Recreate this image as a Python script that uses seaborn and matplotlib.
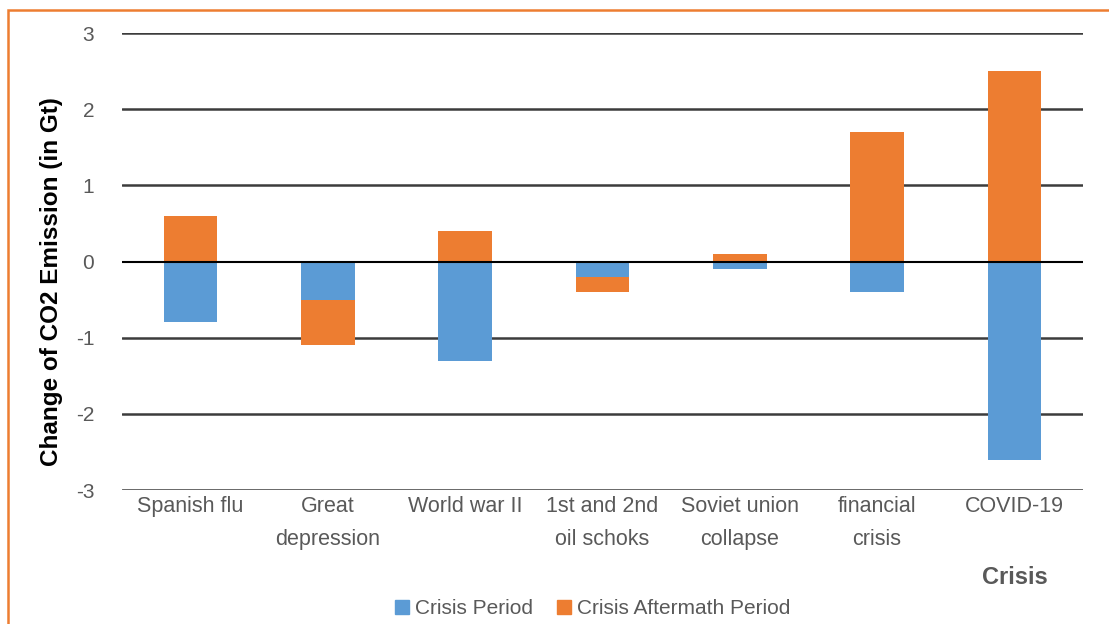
import matplotlib
matplotlib.use("Agg")
import matplotlib.pyplot as plt
import seaborn as sns
import numpy as np
import pandas as pd
from matplotlib.lines import Line2D
from matplotlib.patches import Rectangle

# Data
categories = ["Spanish flu", "Great\ndepression", "World war II", "1st and 2nd\noil schoks",
              "Soviet union\ncollapse", "financial\ncrisis", "COVID-19"]
crisis_period = [-0.8, -0.5, -1.3, -0.2, -0.1, -0.4, -2.6]
aftermath_period = [0.6, -0.6, 0.4, -0.2, 0.1, 1.7, 2.5]
y_ticks = [-3, -2, -1, 0, 1, 2, 3]

BLUE = "#5B9BD5"
ORANGE = "#ED7D31"
GRAY = "#595959"

df = pd.DataFrame({"crisis": categories, "period": crisis_period, "aftermath": aftermath_period})
# stack aftermath on the crisis bar when both have the same sign
after_bottom = np.where(np.sign(df["period"]) == np.sign(df["aftermath"]), df["period"], 0.0)

sns.set_theme(style="white")
plt.rcParams["font.family"] = ["Liberation Sans", "DejaVu Sans"]
plt.rcParams["axes.unicode_minus"] = False

fig = plt.figure(figsize=(11.09, 6.24), dpi=100)
ax = fig.add_axes([0.110, 0.2147, 0.8666, 0.7324])

for y in y_ticks:
    if y != 0:
        ax.axhline(y, color="#3c3c3c", lw=1.8, zorder=0)

sns.barplot(data=df, x="crisis", y="period", order=categories, color=BLUE,
            saturation=1, width=0.39, linewidth=0, ax=ax, zorder=2)
sns.barplot(data=df, x="crisis", y="aftermath", order=categories, color=ORANGE,
            saturation=1, width=0.39, linewidth=0, bottom=after_bottom, ax=ax, zorder=2)

ax.axhline(0, color="black", lw=1.5, zorder=3)

ax.set_ylim(-3, 3)
ax.set_yticks(y_ticks)
ax.set_yticklabels([str(t) for t in y_ticks])
ax.set_xlim(-0.5, 6.5)
ax.set_xlabel("")
ax.set_ylabel("")
for s in ax.spines.values():
    s.set_visible(False)
ax.tick_params(axis="y", length=0, pad=20, labelsize=15, labelcolor=GRAY)
ax.tick_params(axis="x", length=0, pad=4, labelsize=15.5, labelcolor=GRAY)
for lab in ax.get_xticklabels():
    lab.set_linespacing(1.75)

fig.text(52 / 1109, 1 - 282 / 624, "Change of CO2 Emission (in Gt)", rotation=90,
         ha="center", va="center", fontsize=17.5, fontweight="bold", color="black")
fig.text(1015 / 1109, 1 - 578 / 624, "Crisis", ha="center", va="center",
         fontsize=17, fontweight="bold", color=GRAY)

handles = [Line2D([], [], marker="s", ls="", color=BLUE, markersize=10),
           Line2D([], [], marker="s", ls="", color=ORANGE, markersize=10)]
fig.legend(handles, ["Crisis Period", "Crisis Aftermath Period"], loc="center",
           bbox_to_anchor=(591 / 1109, 1 - 609 / 624), ncol=2, frameon=False,
           fontsize=15, labelcolor=GRAY, handletextpad=0.1, columnspacing=1.0,
           handlelength=1.0)

# orange frame (only top and left visible in the original)
fig.patches.append(Rectangle((8 / 1109, -0.2), 1.2, 1 - 10 / 624 + 0.2, transform=fig.transFigure,
                             fill=False, edgecolor=ORANGE, lw=1.8, figure=fig))

fig.savefig("out.png", dpi=100)
